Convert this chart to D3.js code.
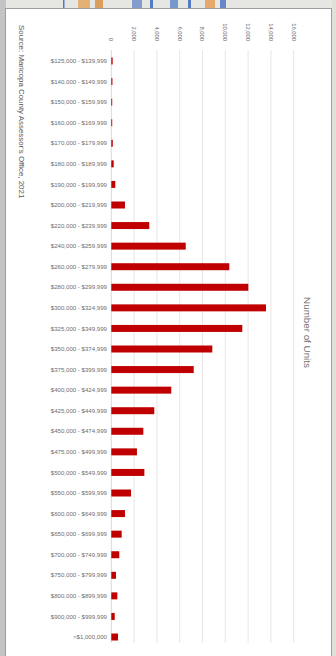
<!DOCTYPE html>
<html>
<head>
<meta charset="utf-8">
<script src="https://cdn.jsdelivr.net/npm/d3@7/dist/d3.min.js"></script>
<style>
html,body{margin:0;padding:0;background:#d9d9d6;}
svg{display:block;}
text{font-family:"Liberation Sans",Arial,sans-serif;}
</style>
</head>
<body>
<svg id="c" width="336" height="656"></svg>
<script>
const categories = [
  "$125,000 - $139,999","$140,000 - $149,999","$150,000 - $159,999","$160,000 - $169,999",
  "$170,000 - $179,999","$180,000 - $189,999","$190,000 - $199,999","$200,000 - $219,999",
  "$220,000 - $239,999","$240,000 - $259,999","$260,000 - $279,999","$280,000 - $299,999",
  "$300,000 - $324,999","$325,000 - $349,999","$350,000 - $374,999","$375,000 - $399,999",
  "$400,000 - $424,999","$425,000 - $449,999","$450,000 - $474,999","$475,000 - $499,999",
  "$500,000 - $549,999","$550,000 - $599,999","$600,000 - $649,999","$650,000 - $699,999",
  "$700,000 - $749,999","$750,000 - $799,999","$800,000 - $899,999","$900,000 - $999,999",
  ">$1,000,000"
];
const units = [
  120, 100, 80, 80, 130, 210, 350, 1200,
  3330, 6530, 10350, 12020,
  13570, 11490, 8860, 7230,
  5260, 3770, 2810, 2250,
  2900, 1730, 1200, 910,
  700, 410, 530, 300,
  590
];
const tickValues = [0, 2000, 4000, 6000, 8000, 10000, 12000, 14000, 16000];
const axisTitle = "Number of Units";
const sourceText = "Source: Maricopa County Assessor's Office, 2021";

const svg = d3.select("#c");

// surrounding screenshot backdrop
const bg = svg.append("g");
bg.append("rect").attr("x",0).attr("y",0).attr("width",336).attr("height",656).attr("fill","#d6d6d2");
bg.append("rect").attr("x",0).attr("y",0).attr("width",336).attr("height",9).attr("fill","#e6e7e2");
bg.append("rect").attr("x",332).attr("y",0).attr("width",4).attr("height",656).attr("fill","#dfe2d6");
bg.append("rect").attr("x",0).attr("y",0).attr("width",6).attr("height",656).attr("fill","#c4c4c4");
[[63,1.5,"#2f5fbf"],[78,12,"#e3a45a"],[95,8,"#d98c3c"],[132,10,"#6b88c8"],[150,3,"#2f5fbf"],[170,8,"#5a86c8"],[188,3,"#2f5fbf"],[205,10,"#e39a4e"],[220,6,"#4a6fc0"]]
  .forEach(d => bg.append("rect").attr("x",d[0]).attr("y",0).attr("width",d[1]).attr("height",8).attr("fill",d[2]).attr("opacity",0.8));
// panel
bg.append("rect").attr("x",5).attr("y",8).attr("width",327).attr("height",648).attr("fill","#9e9e9e");
bg.append("rect").attr("x",6).attr("y",9).attr("width",325).attr("height",647).attr("fill","#ffffff");

const x = d3.scaleLinear().domain([0,16000]).range([111.3, 293.7]);
const y = d3.scaleBand().domain(categories).range([50.7, 647.3]).paddingInner(0.66).paddingOuter(0.33);

// gridlines
svg.append("g").selectAll("line").data(tickValues.filter(v => v > 0)).join("line")
  .attr("x1", d => x(d)).attr("x2", d => x(d))
  .attr("y1", 50).attr("y2", 643)
  .attr("stroke", "#e6e6e6").attr("stroke-width", 1);

// zero axis line
svg.append("line").attr("x1", x(0)).attr("x2", x(0)).attr("y1", 50).attr("y2", 643)
  .attr("stroke", "#d9d9d9").attr("stroke-width", 1);

// tick labels (rotated)
svg.append("g").selectAll("text").data(tickValues).join("text")
  .attr("transform", d => `translate(${x(d)},41) rotate(90)`)
  .attr("text-anchor", "end")
  .attr("dy", "0.35em")
  .attr("font-size", "5.8px")
  .attr("fill", "#666666")
  .text(d => d3.format(",")(d));

// bars
svg.append("g").selectAll("rect").data(categories).join("rect")
  .attr("x", x(0))
  .attr("y", d => y(d))
  .attr("width", (d,i) => x(units[i]) - x(0))
  .attr("height", y.bandwidth())
  .attr("fill", "#c00000");

// category labels
svg.append("g").selectAll("text").data(categories).join("text")
  .attr("x", 107)
  .attr("y", d => y(d) + y.bandwidth()/2)
  .attr("dy", "0.35em")
  .attr("text-anchor", "end")
  .attr("font-size", "6.1px")
  .attr("fill", "#6e6e6e")
  .text(d => d);

// axis title
svg.append("text")
  .attr("transform", "translate(307,332.5) rotate(90)")
  .attr("text-anchor", "middle")
  .attr("dy", "0.35em")
  .attr("font-size", "9.8px")
  .attr("fill", "#707070")
  .text(axisTitle);

// source
svg.append("text")
  .attr("transform", "translate(22,25) rotate(90)")
  .attr("text-anchor", "start")
  .attr("dy", "0.35em")
  .attr("font-size", "7.9px")
  .attr("fill", "#555555")
  .text(sourceText);
</script>
</body>
</html>
